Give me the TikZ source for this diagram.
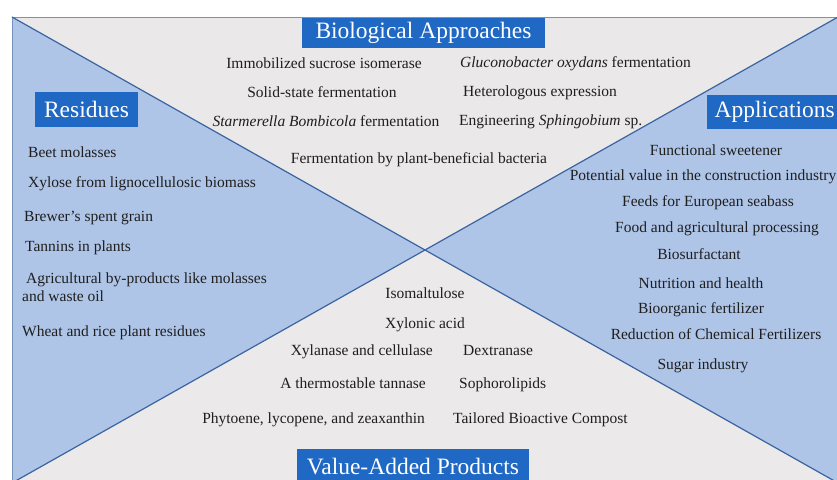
\documentclass[tikz,border=0pt]{standalone}
\usepackage{fontspec}
\setmainfont{Liberation Serif}
\usepackage{tikz}
\usepackage{xcolor}
\usetikzlibrary{positioning}
\definecolor{panelblue}{HTML}{AFC5E8}
\definecolor{panelgrey}{HTML}{EAE8E9}
\definecolor{headblue}{HTML}{1F68C4}
\definecolor{edgeblue}{HTML}{3A64A0}
\definecolor{ink}{HTML}{1E1E1E}

\begin{document}
\begin{tikzpicture}[
  x=1pt, y=-1pt,
  heading/.style={rectangle, fill=headblue, text=white, inner sep=2pt,
    font=\fontsize{23.5}{27}\selectfont},
  item/.style={text=ink, inner sep=0pt, font=\fontsize{15.5}{18}\selectfont},
  diag/.style={draw=edgeblue, line width=1.2pt},
]
\clip (0,0) rectangle (837,479);
\fill[white] (0,0) rectangle (837,479);

% Corners of the frame and its centre
\coordinate (tl) at (12,17);
\coordinate (tr) at (838,17);
\coordinate (bl) at (12,483);
\coordinate (br) at (838,483);
\coordinate (mid) at (425,250);

% Four panels
\fill[panelgrey] (tl) -- (tr) -- (mid) -- cycle;
\fill[panelgrey!96!white] (bl) -- (br) -- (mid) -- cycle;
\fill[panelblue] (tl) -- (bl) -- (mid) -- cycle;
\fill[panelblue] (tr) -- (br) -- (mid) -- cycle;
\draw[edgeblue!70, line width=1pt] (bl) -- (tl) -- (tr);
\draw[diag] (tl) -- (br);
\draw[diag] (tr) -- (bl);

% Headings
\node[heading, minimum width=243, minimum height=30] (bio) at (423.5,33) {Biological Approaches};
\node[heading, minimum width=103, minimum height=35] (res) at (86.5,109.5) {Residues};
\node[heading, minimum width=135, minimum height=34, anchor=west] (app) at (707,112) {Applications};
\node[heading, minimum width=232, minimum height=34, anchor=north] (vap) at (413,449) {Value-Added Products};

% Residues
\node[item, anchor=base west] (r1) at (28,157) {Beet molasses};
\node[item, anchor=base west] (r2) at (28,187) {Xylose from lignocellulosic biomass};
\node[item, anchor=base west] (r3) at (24,221) {Brewer's spent grain};
\node[item, anchor=base west] (r4) at (25,251) {Tannins in plants};
\node[item, anchor=north west, align=left] (r5) at (22,273) {\hspace{4pt}Agricultural by-products like molasses\\and waste oil};
\node[item, anchor=base west] (r6) at (22,336) {Wheat and rice plant residues};

% Biological approaches
\node[item, anchor=base] (b1) at (324,68) {Immobilized sucrose isomerase};
\node[item, anchor=base] (b2) at (322,97) {Solid-state fermentation};
\node[item, anchor=base] (b3) at (326,126) {\textit{Starmerella Bombicola} fermentation};
\node[item, anchor=base west] (b4) at (460,67) {\textit{Gluconobacter oxydans} fermentation};
\node[item, anchor=base west] (b5) at (463,96) {Heterologous expression};
\node[item, anchor=base west] (b6) at (459,125) {Engineering \textit{Sphingobium} sp.};
\node[item, anchor=base] (b7) at (419,163) {Fermentation by plant-beneficial bacteria};

% Applications
\node[item, anchor=base] (a1) at (716,155) {Functional sweetener};
\node[item, anchor=base] (a2) at (703,180) {Potential value in the construction industry};
\node[item, anchor=base] (a3) at (708,206) {Feeds for European seabass};
\node[item, anchor=base] (a4) at (717,232) {Food and agricultural processing};
\node[item, anchor=base] (a5) at (699,259) {Biosurfactant};
\node[item, anchor=base] (a6) at (701,288) {Nutrition and health};
\node[item, anchor=base] (a7) at (701,313) {Bioorganic fertilizer};
\node[item, anchor=base] (a8) at (716,339) {Reduction of Chemical Fertilizers};
\node[item, anchor=base] (a9) at (703,369) {Sugar industry};

% Value-added products
\node[item, anchor=base] (p1) at (425,298) {Isomaltulose};
\node[item, anchor=base] (p2) at (425,328) {Xylonic acid};
\node[item, anchor=base east] (p3) at (433,355) {Xylanase and cellulase};
\node[item, anchor=base west] (p4) at (463,355) {Dextranase};
\node[item, anchor=base east] (p5) at (426,388) {A thermostable tannase};
\node[item, anchor=base west] (p6) at (459,388) {Sophorolipids};
\node[item, anchor=base east] (p7) at (425,423) {Phytoene, lycopene, and zeaxanthin};
\node[item, anchor=base west] (p8) at (453,423) {Tailored Bioactive Compost};
\end{tikzpicture}
\end{document}
